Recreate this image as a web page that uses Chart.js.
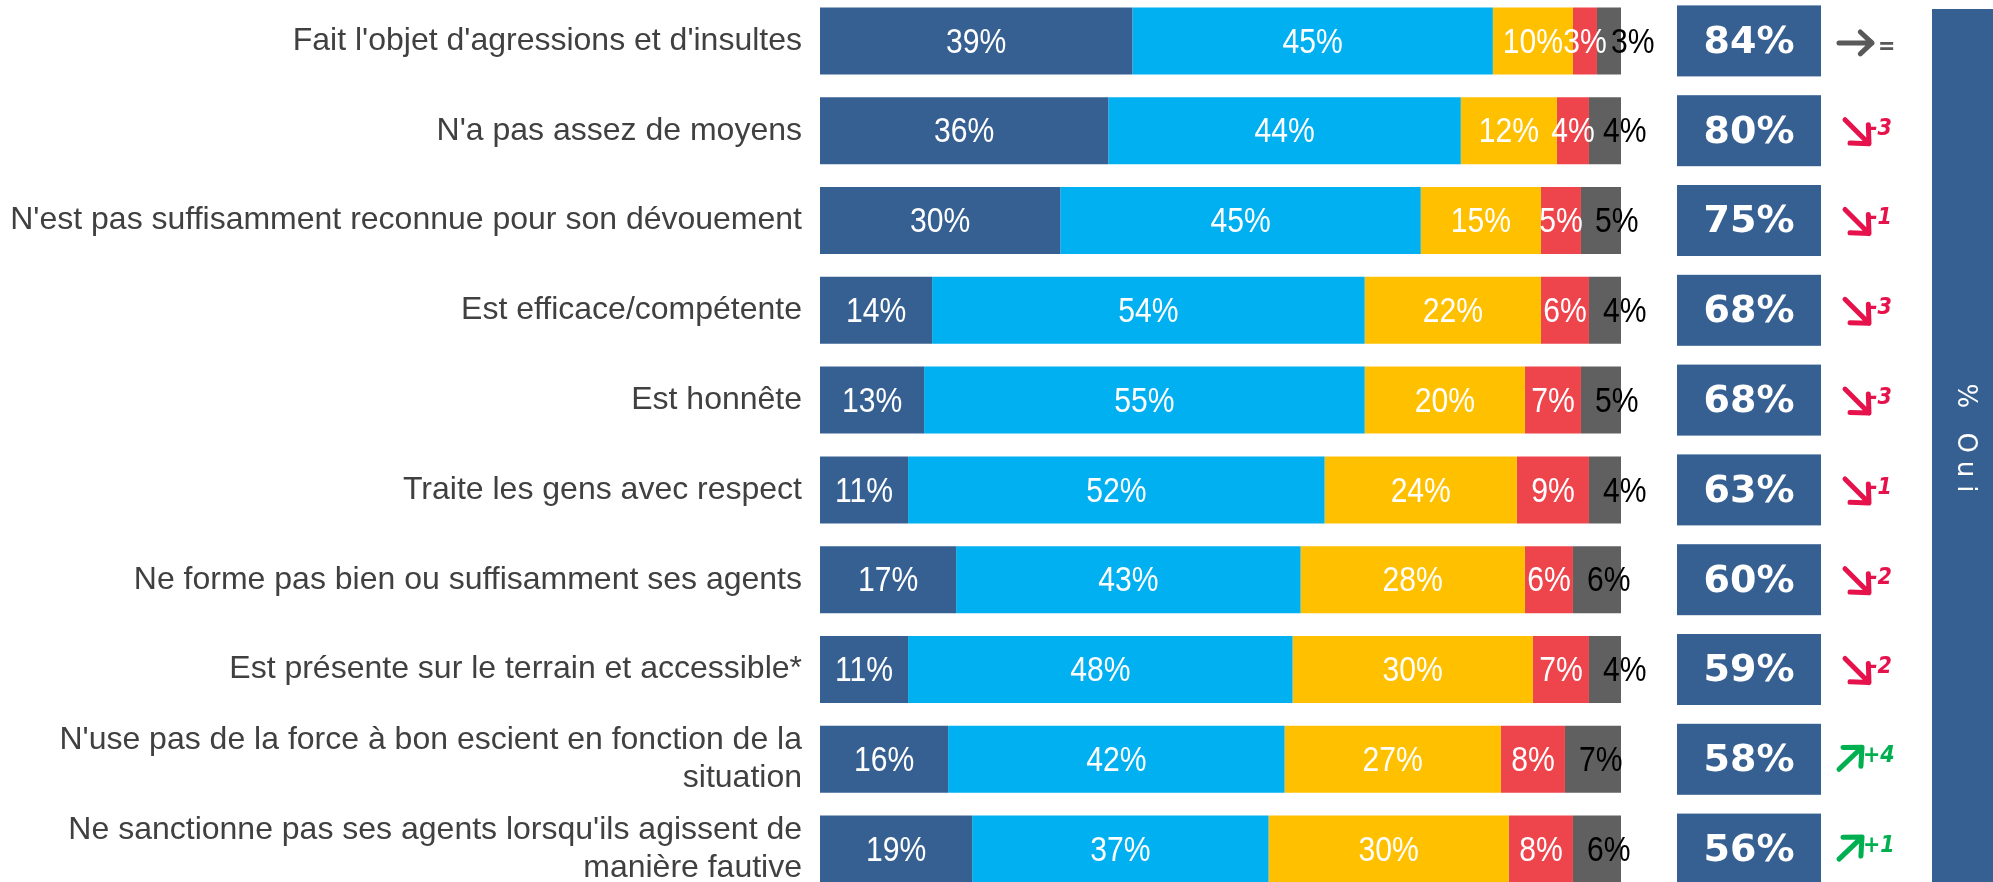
<!DOCTYPE html>
<html lang="fr">
<head>
<meta charset="utf-8">
<title>Image de la police</title>
<script src="https://cdn.jsdelivr.net/npm/chart.js@4.4.1/dist/chart.umd.min.js"></script>
<style>
  html, body { margin: 0; padding: 0; background: #fff; overflow: hidden; }
  #wrap { position: absolute; left: 0; top: -4px; width: 1993px; height: 898px; }
</style>
</head>
<body>
<div id="wrap"><canvas id="chart"></canvas></div>
<script>
// Statements, top to bottom
const categories = [
    "Fait l'objet d'agressions et d'insultes",
    "N'a pas assez de moyens",
    "N'est pas suffisamment reconnue pour son dévouement",
    "Est efficace/compétente",
    "Est honnête",
    "Traite les gens avec respect",
    "Ne forme pas bien ou suffisamment ses agents",
    "Est présente sur le terrain et accessible*",
    ["N'use pas de la force à bon escient en fonction de la", "situation"],
    ["Ne sanctionne pas ses agents lorsqu'ils agissent de", "manière fautive"]
];

// Answer shares (%)
const ouiToutAFait = [39, 36, 30, 14, 13, 11, 17, 11, 16, 19];
const ouiPlutot    = [45, 44, 45, 54, 55, 52, 43, 48, 42, 37];
const nonPlutotPas = [10, 12, 15, 22, 20, 24, 28, 30, 27, 30];
const nonPasDuTout = [3, 4, 5, 6, 7, 9, 6, 7, 8, 8];
const nsp          = [3, 4, 5, 4, 5, 4, 6, 4, 7, 6];

// Total "Oui" and change since last wave
const totalOui = [84, 80, 75, 68, 68, 63, 60, 59, 58, 56];
const evolution = [0, -3, -1, -3, -3, -1, -2, -2, 4, 1];

const colors = ['#376092', '#00B0F0', '#FFC000', '#EE444C', '#606060'];
const navy = '#376092';

// Narrow text: squeeze the font horizontally around its anchor
function narrowText(ctx, text, x, y, squeeze) {
    ctx.save();
    ctx.translate(x, y);
    ctx.scale(squeeze, 1);
    ctx.fillText(text, 0, 0);
    ctx.restore();
}

// Percentage written inside each segment; the last segment's label sits to its right
const segmentLabels = {
    id: 'segmentLabels',
    afterDatasetsDraw(chart) {
        const ctx = chart.ctx;
        const last = chart.data.datasets.length - 1;
        ctx.save();
        ctx.font = '35px "Liberation Sans", Arial, sans-serif';
        ctx.textBaseline = 'middle';
        chart.data.datasets.forEach((ds, di) => {
            chart.getDatasetMeta(di).data.forEach((bar, i) => {
                const text = ds.data[i] + '%';
                if (di === last) {
                    ctx.fillStyle = '#000';
                    ctx.textAlign = 'left';
                    narrowText(ctx, text, bar.base + 14, bar.y + 2, 0.86);
                } else {
                    ctx.fillStyle = '#fff';
                    ctx.textAlign = 'center';
                    narrowText(ctx, text, (bar.x + bar.base) / 2, bar.y + 2, 0.86);
                }
            });
        });
        ctx.restore();
    }
};

function drawArrow(ctx, x1, y1, x2, y2, head) {
    const ang = Math.atan2(y2 - y1, x2 - x1);
    ctx.beginPath();
    ctx.moveTo(x1, y1);
    ctx.lineTo(x2, y2);
    ctx.moveTo(x2 - head * Math.cos(ang - 0.75), y2 - head * Math.sin(ang - 0.75));
    ctx.lineTo(x2, y2);
    ctx.lineTo(x2 - head * Math.cos(ang + 0.75), y2 - head * Math.sin(ang + 0.75));
    ctx.stroke();
}

// "% Oui" boxes, trend arrows and the vertical banner
const sidePanel = {
    id: 'sidePanel',
    afterDraw(chart) {
        const ctx = chart.ctx;
        const area = chart.chartArea;
        const yScale = chart.scales.y;
        const boxX = area.right + 56;
        const boxW = 144, boxH = 71;
        const ax = area.right + 217;

        ctx.save();
        totalOui.forEach((v, i) => {
            const yc = yScale.getPixelForValue(i);

            ctx.fillStyle = navy;
            ctx.fillRect(boxX, yc - boxH / 2, boxW, boxH);
            ctx.fillStyle = '#fff';
            ctx.font = 'bold 38px "DejaVu Sans", Verdana, sans-serif';
            ctx.textAlign = 'center';
            ctx.textBaseline = 'middle';
            ctx.fillText(v + '%', boxX + boxW / 2, yc + 2);

            const d = evolution[i];
            ctx.lineWidth = 5;
            ctx.lineCap = 'round';
            ctx.lineJoin = 'round';
            ctx.font = 'italic bold 23px "DejaVu Sans", Verdana, sans-serif';
            ctx.textAlign = 'left';
            if (d === 0) {
                ctx.strokeStyle = ctx.fillStyle = '#595959';
                drawArrow(ctx, ax + 1, yc + 2, ax + 34, yc + 2, 16);
                narrowText(ctx, '=', ax + 40, yc + 6, 0.9);
            } else if (d < 0) {
                ctx.strokeStyle = ctx.fillStyle = '#E5124B';
                drawArrow(ctx, ax + 7, yc - 11, ax + 31, yc + 13, 19);
                narrowText(ctx, String(d), ax + 31, yc - 2, 0.9);
            } else {
                ctx.strokeStyle = ctx.fillStyle = '#00B050';
                drawArrow(ctx, ax + 1, yc + 10, ax + 24, yc - 12, 19);
                narrowText(ctx, '+' + d, ax + 25, yc - 3, 0.9);
            }
        });

        const bx = area.right + 311;
        ctx.fillStyle = navy;
        ctx.fillRect(bx, 13, chart.width - bx, chart.height - 13);
        ctx.translate(bx + 33, (area.top + area.bottom) / 2 - 3);
        ctx.rotate(Math.PI / 2);
        ctx.fillStyle = '#fff';
        ctx.font = '26px "DejaVu Sans", Verdana, sans-serif';
        ctx.letterSpacing = '8px';
        ctx.textAlign = 'center';
        ctx.textBaseline = 'middle';
        ctx.fillText('% Oui', 0, 0);
        ctx.restore();
    }
};

const seriesNames = ['Oui, tout à fait', 'Oui, plutôt', 'Non, plutôt pas', 'Non, pas du tout', 'Ne sait pas'];
const series = [ouiToutAFait, ouiPlutot, nonPlutotPas, nonPasDuTout, nsp];

new Chart(document.getElementById('chart'), {
    type: 'bar',
    data: {
        labels: categories,
        datasets: series.map((values, i) => ({
            label: seriesNames[i],
            data: values,
            backgroundColor: colors[i],
            borderWidth: 0,
            categoryPercentage: 1,
            barPercentage: 0.746
        }))
    },
    options: {
        indexAxis: 'y',
        responsive: true,
        maintainAspectRatio: false,
        animation: false,
        layout: { padding: { left: 0, right: 372, top: 0, bottom: 0 } },
        plugins: {
            legend: { display: false },
            tooltip: { enabled: false }
        },
        scales: {
            x: {
                stacked: true,
                min: 0,
                max: 100,
                display: false
            },
            y: {
                stacked: true,
                grid: { display: false, drawTicks: false },
                border: { display: false },
                afterFit: scale => {
                    scale.width = 820;
                    scale.paddingTop = 0;
                    scale.paddingBottom = 0;
                },
                ticks: {
                    padding: 18,
                    color: '#404040',
                    font: { family: '"Liberation Sans", Arial, sans-serif', size: 32, lineHeight: 1.19 }
                }
            }
        }
    },
    plugins: [segmentLabels, sidePanel]
});
</script>
</body>
</html>
